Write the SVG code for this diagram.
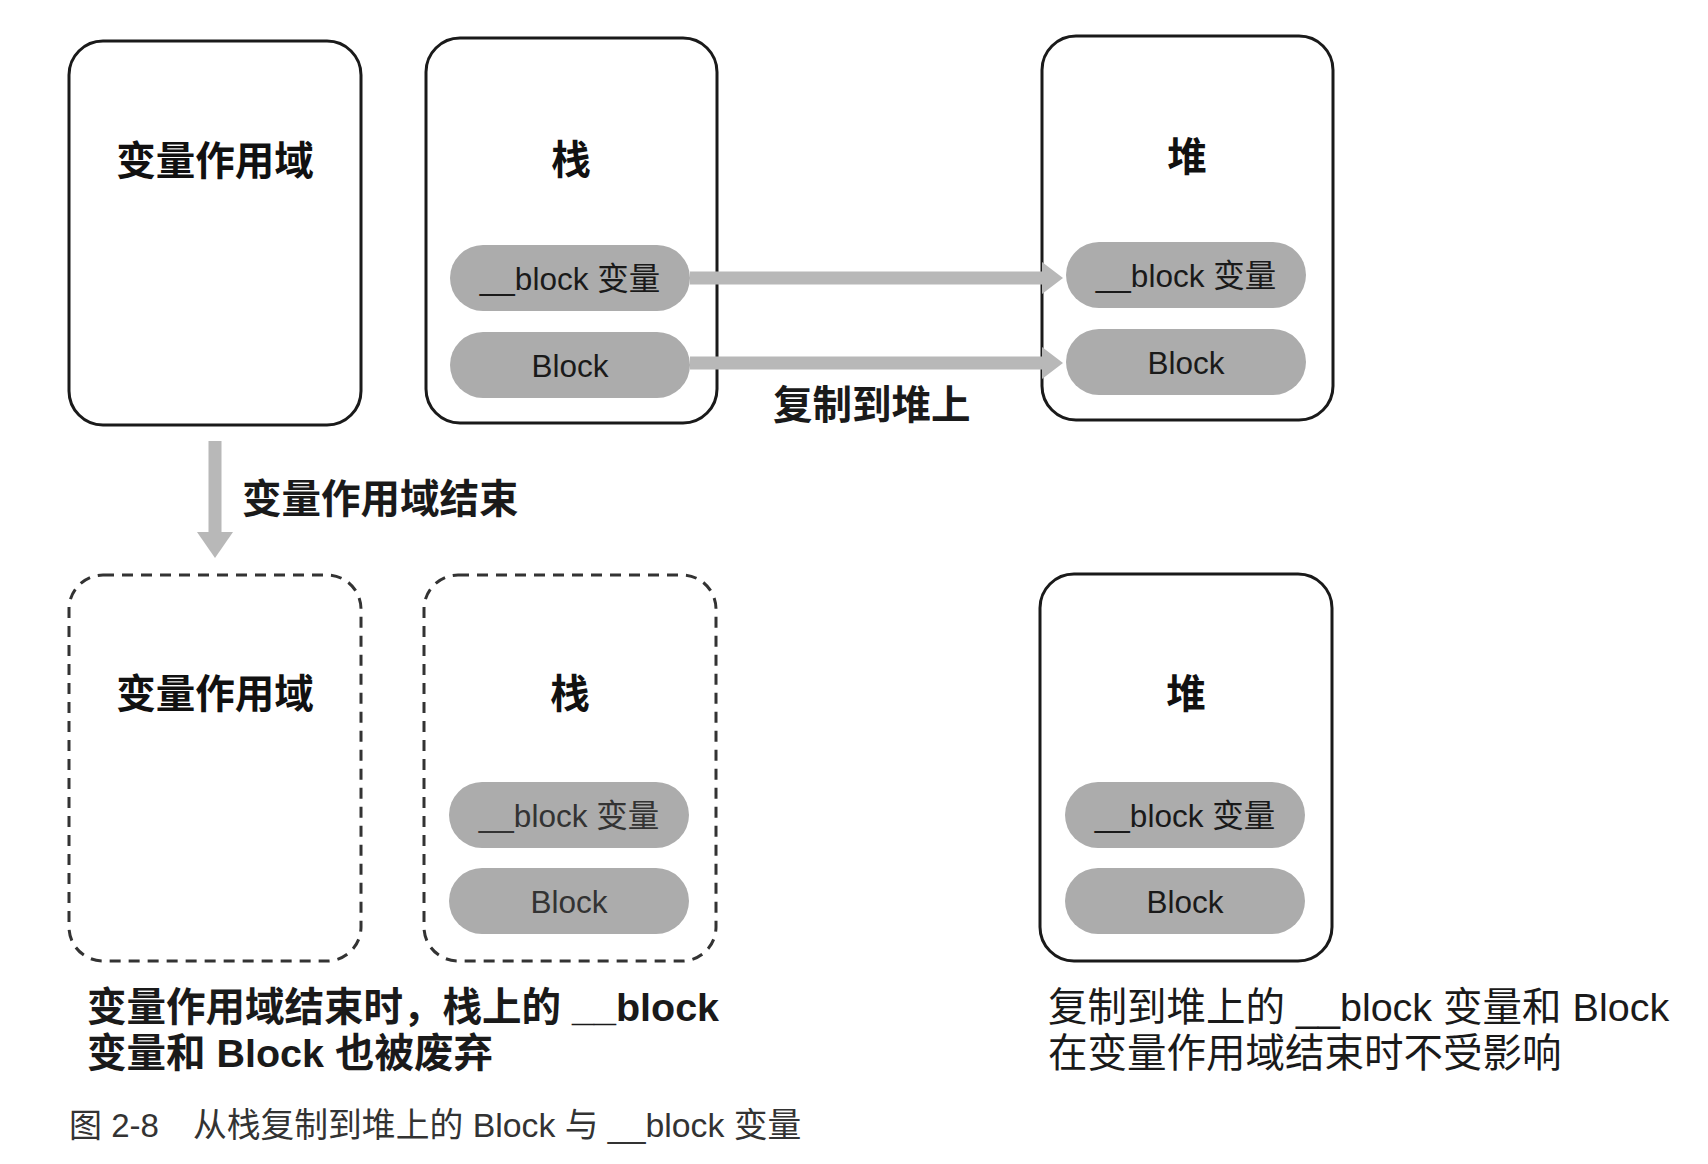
<svg xmlns="http://www.w3.org/2000/svg" width="1708" height="1164" viewBox="0 0 1708 1164">
<style>
.box{fill:#fff;stroke:#1a1a1a;stroke-width:3}
.dash{fill:#fff;stroke:#333;stroke-width:3;stroke-dasharray:11 8}
.pill{fill:#acacac}
.title{font-family:"Liberation Sans","Noto Sans CJK SC",sans-serif;font-weight:700;font-size:39.5px;fill:#111;text-anchor:middle}
.ptxt{font-family:"Liberation Sans","Noto Sans CJK SC",sans-serif;font-size:31.5px;fill:#1a1a1a;text-anchor:middle}
.ptxt2{font-family:"Liberation Sans","Noto Sans CJK SC",sans-serif;font-size:31.5px;fill:#333;text-anchor:middle}
.lbl{font-family:"Liberation Sans","Noto Sans CJK SC",sans-serif;font-weight:700;font-size:39.5px;fill:#1a1a1a}
.cap{font-family:"Liberation Sans","Noto Sans CJK SC",sans-serif;font-size:39.5px;fill:#1a1a1a}
.fig{font-family:"Liberation Sans","Noto Sans CJK SC",sans-serif;font-size:33px;fill:#333}
.conn{stroke:#b8b8b8;stroke-width:13;fill:none}
</style>
<defs>
<marker id="ah" markerWidth="21" markerHeight="32" refX="0" refY="16" orient="auto" markerUnits="userSpaceOnUse" viewBox="0 0 21 32">
<path d="M0,0 L21,16 L0,32 Z" fill="#b8b8b8"/>
</marker>
<marker id="ahd" markerWidth="26" markerHeight="36" refX="0" refY="18" orient="auto" markerUnits="userSpaceOnUse" viewBox="0 0 26 36">
<path d="M0,0 L26,18 L0,36 Z" fill="#b8b8b8"/>
</marker>
</defs>

<g id="scope-top">
<rect class="box" x="69" y="41" width="292" height="384" rx="34"/>
<text class="title" x="215" y="175">变量作用域</text>
</g>
<g id="stack-top">
<rect class="box" x="426" y="38" width="291" height="385" rx="34"/>
<text class="title" x="571" y="174">栈</text>
<rect class="pill" x="450" y="245" width="240" height="66" rx="33"/>
<text class="ptxt" x="570" y="290">__block 变量</text>
<rect class="pill" x="450" y="332" width="240" height="66" rx="33"/>
<text class="ptxt" x="570" y="377">Block</text>
</g>
<g id="heap-top">
<rect class="box" x="1042" y="36" width="291" height="384" rx="34"/>
<text class="title" x="1187" y="171">堆</text>
<rect class="pill" x="1066" y="242" width="240" height="66" rx="33"/>
<text class="ptxt" x="1186" y="287">__block 变量</text>
<rect class="pill" x="1066" y="329" width="240" height="66" rx="33"/>
<text class="ptxt" x="1186" y="374">Block</text>
</g>

<g id="scope-bottom">
<rect class="dash" x="69" y="575" width="292" height="386" rx="34"/>
<text class="title" x="215" y="708">变量作用域</text>
</g>
<g id="stack-bottom">
<rect class="dash" x="424" y="575" width="292" height="386" rx="34"/>
<text class="title" x="570" y="708">栈</text>
<rect class="pill" x="449" y="782" width="240" height="66" rx="33"/>
<text class="ptxt2" x="569" y="827">__block 变量</text>
<rect class="pill" x="449" y="868" width="240" height="66" rx="33"/>
<text class="ptxt2" x="569" y="913">Block</text>
</g>
<g id="heap-bottom">
<rect class="box" x="1040" y="574" width="292" height="387" rx="34"/>
<text class="title" x="1186" y="708">堆</text>
<rect class="pill" x="1065" y="782" width="240" height="66" rx="33"/>
<text class="ptxt" x="1185" y="827">__block 变量</text>
<rect class="pill" x="1065" y="868" width="240" height="66" rx="33"/>
<text class="ptxt" x="1185" y="913">Block</text>
</g>

<g id="connectors">
<line class="conn" x1="690" y1="278" x2="1042" y2="278" marker-end="url(#ah)"/>
<line class="conn" x1="690" y1="363" x2="1042" y2="363" marker-end="url(#ah)"/>
<line class="conn" stroke-width="14" x1="215" y1="441" x2="215" y2="532" marker-end="url(#ahd)"/>
</g>

<text class="lbl" x="773" y="419">复制到堆上</text>
<text class="lbl" x="242" y="513">变量作用域结束</text>

<text class="cap" font-weight="700" x="87" y="1021">变量作用域结束时，栈上的 __block</text>
<text class="cap" font-weight="700" x="87" y="1067">变量和 Block 也被废弃</text>
<text class="cap" x="1048" y="1021">复制到堆上的 __block 变量和 Block</text>
<text class="cap" x="1048" y="1067">在变量作用域结束时不受影响</text>
<text class="fig" x="69" y="1137">图 2-8<tspan dx="34" font-size="33.8">从栈复制到堆上的 Block 与 __block 变量</tspan></text>
</svg>
